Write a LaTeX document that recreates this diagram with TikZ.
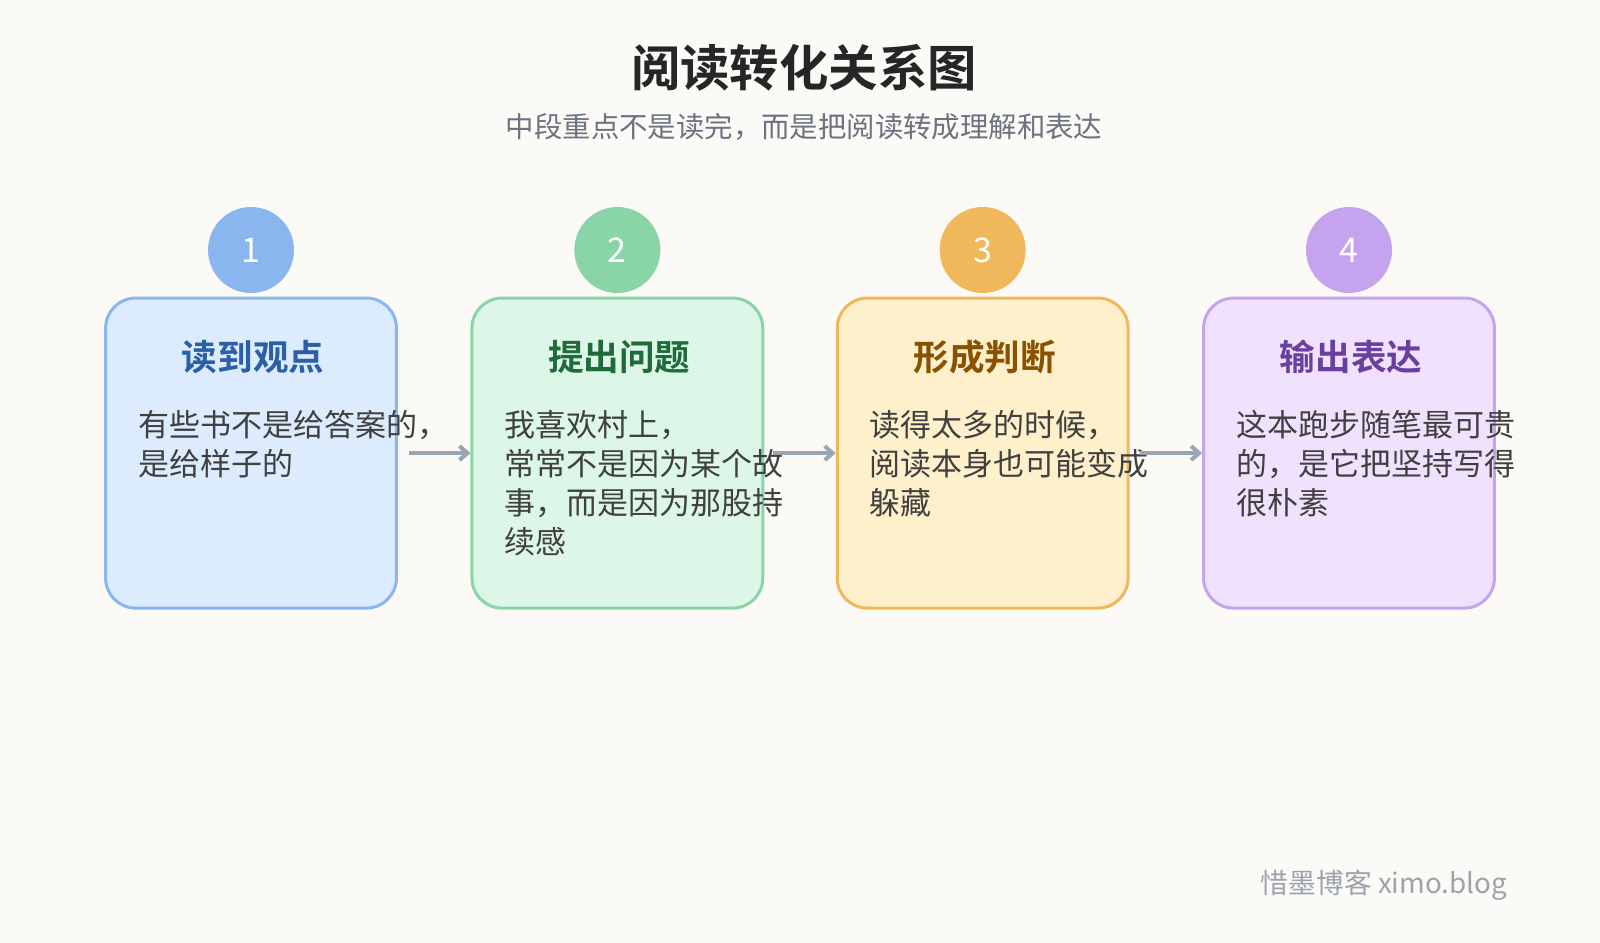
\documentclass[tikz,border=0pt]{standalone}
\usepackage{fontspec}
\setmainfont{Noto Sans CJK SC}
\newfontfamily\cjkb{Noto Sans CJK SC Bold}
\usetikzlibrary{arrows.meta}
\definecolor{bg}{HTML}{FBFAF6}
\definecolor{fa}{HTML}{DCEBFE}\definecolor{ba}{HTML}{8AB6F0}\definecolor{ta}{HTML}{2B5FA8}
\definecolor{fb}{HTML}{DCF7E8}\definecolor{bb}{HTML}{8AD5A8}\definecolor{tb}{HTML}{1F6B3A}
\definecolor{fc}{HTML}{FFF0CC}\definecolor{bc}{HTML}{F0B85A}\definecolor{tc}{HTML}{8A5200}
\definecolor{fd}{HTML}{F0E2FF}\definecolor{bd}{HTML}{C6A3EE}\definecolor{td}{HTML}{6B3FA0}
\definecolor{arr}{HTML}{9AA5B4}
\definecolor{sub}{HTML}{6B7280}
\definecolor{foot}{HTML}{9CA3AF}
\tikzset{
 card/.style={draw=#1,line width=1.5pt,rounded corners=15pt,minimum width=145.4pt,minimum height=155pt,inner sep=0pt},
 num/.style={circle,fill=#1,minimum size=43pt,inner sep=0pt,text=white,font=\fontsize{17}{17}\selectfont},
 ctitle/.style={text=#1,font=\cjkb\fontsize{17.8}{17.8}\selectfont,anchor=center},
 body/.style={text=black!75,font=\fontsize{15.5}{19.4}\selectfont,anchor=north west,align=left,inner sep=0pt},
 link/.style={draw=arr,line width=2pt,-{Straight Barb[length=4pt,width=7pt]}}
}
\begin{document}
\begin{tikzpicture}[x=0.5102pt,y=-0.5102pt]
\fill[bg] (0,0) rectangle (1568,924);
\useasboundingbox (0,0) rectangle (1568,924);
\node (title) at (788,66) {\cjkb\fontsize{24.7}{24.7}\selectfont\color{black!85}阅读转化关系图};
\node (subt) at (788,124) {\fontsize{14.2}{14.2}\selectfont\color{sub}中段重点不是读完，而是把阅读转成理解和表达};
\foreach \i/\x/\f/\b/\t/\n/\h in {1/246/fa/ba/ta/1/读到观点,2/605/fb/bb/tb/2/提出问题,3/963/fc/bc/tc/3/形成判断,4/1322/fd/bd/td/4/输出表达}{
 \node[card=\b,fill=\f] (c\i) at (\x,444) {};
 \node[num=\b] (n\i) at (\x,245) {\n};
 \node[ctitle=\t] (h\i) at (\x+2,350) {\h};
}
\node[body] (t1) at (135,402) {有些书不是给答案的，\\是给样子的};
\node[body] (t2) at (494,402) {我喜欢村上，\\常常不是因为某个故\\事，而是因为那股持\\续感};
\node[body] (t3) at (852,402) {读得太多的时候，\\阅读本身也可能变成\\躲藏};
\node[body] (t4) at (1211,402) {这本跑步随笔最可贵\\的，是它把坚持写得\\很朴素};
\draw[link] ([xshift=5.6pt]c1.east) -- (c2.west);
\draw[link] ([xshift=4.6pt]c2.east) -- (c3.west);
\draw[link] ([xshift=5pt]c3.east) -- (c4.west);
\node[anchor=east,text=foot,font=\fontsize{13.9}{13.9}\selectfont] (ft) at (1484,867) {惜墨博客 ximo.blog};
\end{tikzpicture}
\end{document}
